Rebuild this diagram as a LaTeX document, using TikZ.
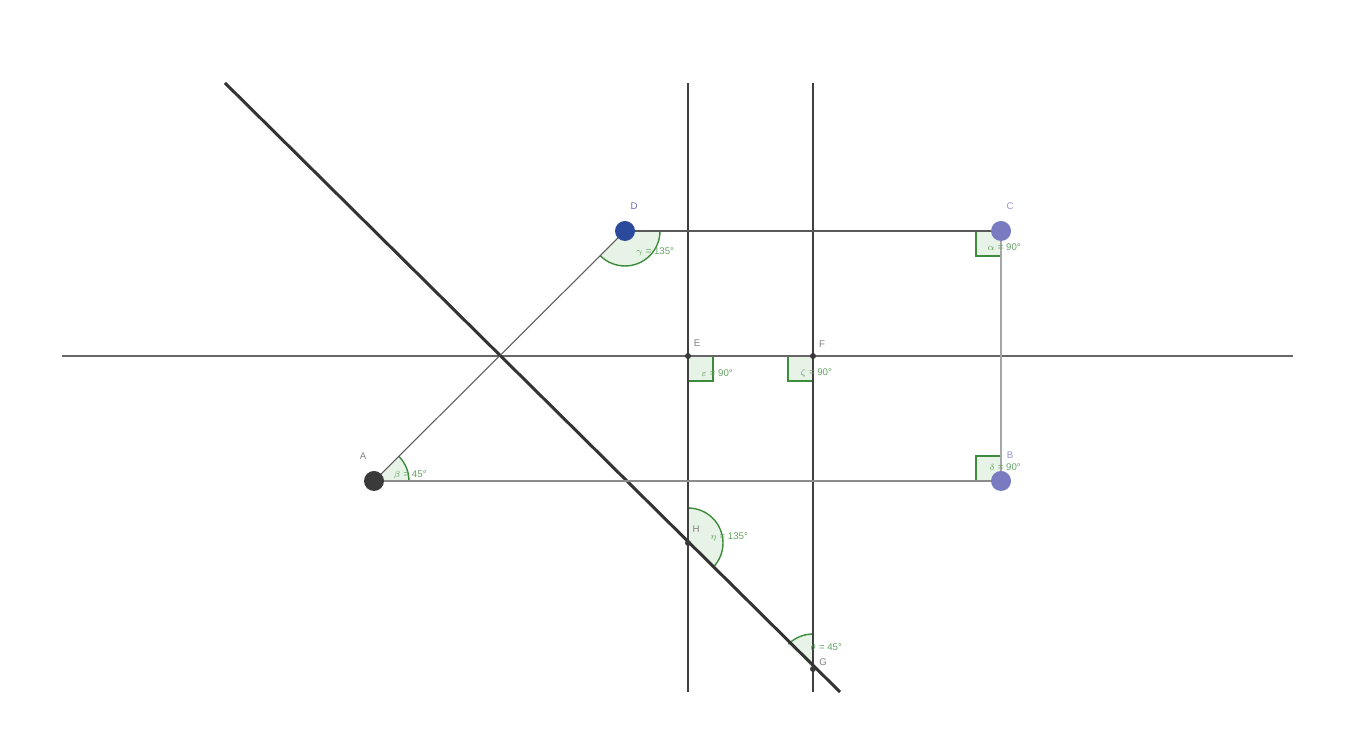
\documentclass[tikz,border=0pt]{standalone}
\usepackage{fontspec}
\setsansfont{Liberation Sans}
\usepackage{tikz}
\usetikzlibrary{angles}
\definecolor{anglegreen}{HTML}{3C8C3C}
\definecolor{anglefill}{HTML}{E8F3E8}
\definecolor{ptdark}{HTML}{2C4A9C}
\definecolor{ptlight}{HTML}{7A7AC0}
\definecolor{ptgray}{HTML}{3A3A3A}
\definecolor{labelblue}{HTML}{6868C0}

\begin{document}
\begin{tikzpicture}[x=0.02cm, y=0.02cm,
    font=\sffamily\fontsize{5.5}{6}\selectfont,
    bigpt/.style={circle, inner sep=0pt, minimum size=0.4cm},
    smallpt/.style={circle, fill=ptgray, inner sep=0pt, minimum size=0.12cm},
    ang/.style={draw=anglegreen, fill=anglefill, line width=0.8pt, angle radius=0.7cm},
    rang/.style={draw=anglegreen, fill=anglefill, line width=0.8pt, angle radius=0.5cm},
    anglbl/.style={text=anglegreen!80},
    ptlbl/.style={text=gray}]
    \useasboundingbox (0,0) rectangle (1352,732);
    % points
    \coordinate (D) at (625,501);
    \coordinate (C) at (1001,501);
    \coordinate (B) at (1001,251);
    \coordinate (A) at (374,251);
    \coordinate (E) at (688,376);
    \coordinate (F) at (813,376);
    \coordinate (H) at (688,189);
    \coordinate (G) at (813,63);
    % line ends
    \coordinate (g1) at (225,649);
    \coordinate (g2) at (840,40);
    \coordinate (h1) at (62,376);
    \coordinate (h2) at (1293,376);
    \coordinate (e1) at (688,649);
    \coordinate (e2) at (688,40);
    \coordinate (f1) at (813,649);
    \coordinate (f2) at (813,40);
    % angles
    \pic[ang] {angle=A--D--C};
    \pic[ang] {angle=B--A--D};
    \pic[ang] {angle=g2--H--E};
    \pic[ang] {angle=F--G--H};
    \pic[rang] {right angle=D--C--B};
    \pic[rang] {right angle=H--E--F};
    \pic[rang] {right angle=E--F--G};
    \pic[rang] {right angle=C--B--A};
    % lines
    \draw[line width=1.1pt, black!60] (h1)--(h2);
    \draw[line width=1.1pt, black!75] (e1)--(e2);
    \draw[line width=1.1pt, black!75] (f1)--(f2);
    \draw[line width=1.7pt, black!80] (g1)--(g2);
    \draw[line width=0.6pt, black!65] (A)--(D);
    \draw[line width=0.6pt, black!65] (D)--(C);
    \draw[line width=0.6pt, black!35] (C)--(B);
    \draw[line width=0.6pt, black!45] (A)--(B);
    % point marks
    \node[bigpt, fill=ptdark] at (D){};
    \node[bigpt, fill=ptlight] at (C){};
    \node[bigpt, fill=ptlight] at (B){};
    \node[bigpt, fill=ptgray] at (A){};
    \node[smallpt] at (E){};
    \node[smallpt] at (F){};
    \node[smallpt] at (H){};
    \node[smallpt] at (G){};
    % point labels
    \node[text=labelblue] (lD) at (634,526){D};
    \node[text=labelblue!70] (lC) at (1010,526){C};
    \node[text=labelblue!70] (lB) at (1010,277){B};
    \node[ptlbl] (lA) at (363,276){A};
    \node[ptlbl] (lE) at (697,389){E};
    \node[ptlbl] (lF) at (822,388){F};
    \node[ptlbl] (lH) at (696,203){H};
    % angle labels
    \node[anglbl] (aD) at (655,480){$\gamma$ = 135°};
    \node[anglbl] (aC) at (1004,485){$\alpha$ = 90°};
    \node[anglbl] (aE) at (717,359){$\varepsilon$ = 90°};
    \node[anglbl] (aF) at (816,359){$\zeta$ = 90°};
    \node[anglbl] (aA) at (410,257){$\beta$ = 45°};
    \node[anglbl] (aB) at (1005,265){$\delta$ = 90°};
    \node[anglbl] (aH) at (729,195){$\eta$ = 135°};
    \node[anglbl] (aG) at (826,85){$\theta$ = 45°};
    \node[ptlbl] (lG) at (823,70){G};
\end{tikzpicture}
\end{document}
